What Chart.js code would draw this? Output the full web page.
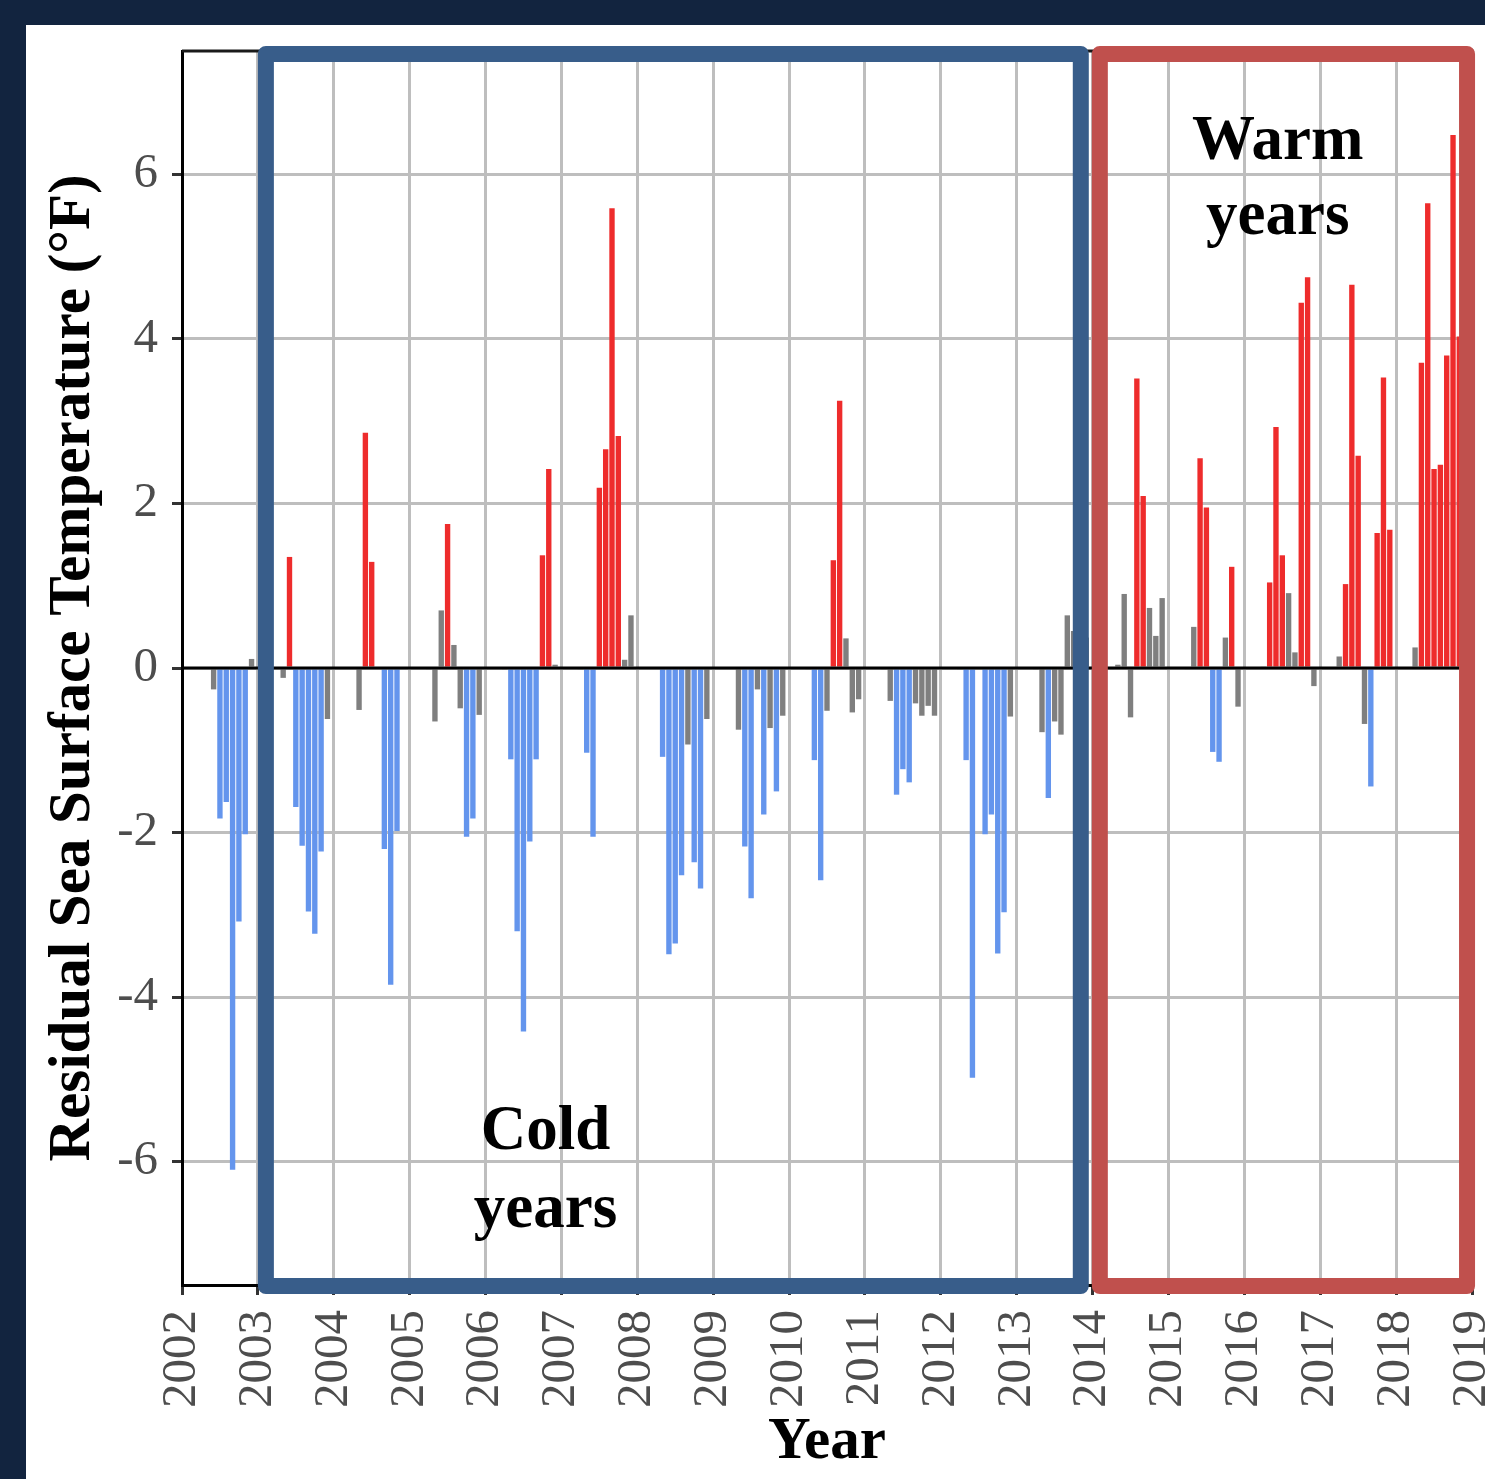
<!DOCTYPE html>
<html>
<head>
<meta charset="utf-8">
<script src="https://cdn.jsdelivr.net/npm/chart.js@4.4.1/dist/chart.umd.min.js"></script>
<style>
  html, body { margin: 0; padding: 0; background: #12243f; }
  #frame { position: absolute; left: 26px; top: 25px; width: 1459px; height: 1454px; background: #ffffff; }
</style>
</head>
<body>
<div id="frame"><canvas id="sstChart"></canvas></div>
<script>
// monthly residual SST (°F), April..December of each year
const years = [2002, 2003, 2004, 2005, 2006, 2007, 2008, 2009, 2010, 2011, 2012, 2013, 2014, 2015, 2016, 2017, 2018];
const months = [4, 5, 6, 7, 8, 9, 10, 11, 12];

const sst2002 = [null, null, -0.26, -1.83, -1.63, -6.10, -3.08, -2.02, 0.11];
const sst2003 = [null, -0.12, 1.35, -1.69, -2.16, -2.96, -3.23, -2.23, -0.62];
const sst2004 = [null, -0.51, 2.86, 1.29, null, -2.20, -3.85, -1.98, null];
const sst2005 = [-0.02, -0.65, 0.70, 1.75, 0.28, -0.49, -2.05, -1.83, -0.57];
const sst2006 = [-0.02, -1.11, -3.20, -4.42, -2.11, -1.11, 1.37, 2.42, 0.04];
const sst2007 = [-0.02, -1.03, -2.05, 2.19, 2.66, 5.59, 2.82, 0.10, 0.64];
const sst2008 = [null, -1.08, -3.48, -3.35, -2.52, -0.93, -2.36, -2.68, -0.62];
const sst2009 = [null, -0.75, -2.17, -2.80, -0.26, -1.78, -0.73, -1.50, -0.58];
const sst2010 = [-0.02, -1.12, -2.58, -0.52, 1.31, 3.25, 0.36, -0.54, -0.38];
const sst2011 = [-0.02, -0.40, -1.54, -1.23, -1.39, -0.43, -0.58, -0.46, -0.58];
const sst2012 = [-0.02, -1.12, -4.98, null, -2.02, -1.78, -3.47, -2.97, -0.59];
const sst2013 = [-0.02, -0.78, -1.58, -0.65, -0.81, 0.64, 0.45, 0.20, 0.37];
const sst2014 = [-0.02, 0.04, 0.90, -0.60, 3.52, 2.09, 0.73, 0.39, 0.85];
const sst2015 = [-0.02, 0.50, 2.55, 1.95, -1.02, -1.14, 0.37, 1.23, -0.47];
const sst2016 = [0.02, 1.04, 2.93, 1.37, 0.91, 0.19, 4.44, 4.75, -0.22];
const sst2017 = [0.14, 1.02, 4.66, 2.58, -0.68, -1.44, 1.64, 3.53, 1.68];
const sst2018 = [0.25, 3.71, 5.65, 2.42, 2.47, 3.80, 6.48, 4.03, 3.00];

const sstByYear = [sst2002, sst2003, sst2004, sst2005, sst2006, sst2007, sst2008, sst2009,
  sst2010, sst2011, sst2012, sst2013, sst2014, sst2015, sst2016, sst2017, sst2018];

const xTickYears = [2002, 2003, 2004, 2005, 2006, 2007, 2008, 2009, 2010, 2011, 2012, 2013, 2014, 2015, 2016, 2017, 2018, 2019];
const yTickValues = [-6, -4, -2, 0, 2, 4, 6];

// highlighted periods and their labels
const periodStart = [2003, 2013.99];
const periodEnd = [2013.95, 2019.04];
const periodColor = ['#385d8a', '#c0504d'];
const periodLine1 = ['Cold', 'Warm'];
const periodLine2 = ['years', 'years'];
const labelX = [2006.79, 2016.44];
const labelY1 = [-5.85, 6.19];
const labelY2 = [-6.79, 5.28];

const points = [];
years.forEach(function (yr, i) {
    months.forEach(function (m, j) {
        const v = sstByYear[i][j];
        if (v !== null) points.push({ x: yr + (m - 1) / 12, y: v });
    });
});

function barColor(v) {
    if (v > 1) return '#ee2c2c';
    if (v < -1) return '#6495ed';
    return '#7f7f7f';
}

const overlay = {
    id: 'overlay',
    afterDatasetsDraw(chart) {
        const { ctx, chartArea: a, scales: { x, y } } = chart;
        ctx.save();
        // zero line
        const y0 = y.getPixelForValue(0);
        ctx.strokeStyle = '#000';
        ctx.lineWidth = 3;
        ctx.beginPath();
        ctx.moveTo(a.left, y0);
        ctx.lineTo(a.right, y0);
        ctx.stroke();
        // rest of the panel border
        ctx.strokeStyle = '#1a1a1a';
        ctx.beginPath();
        ctx.moveTo(a.left, a.top);
        ctx.lineTo(a.right, a.top);
        ctx.lineTo(a.right, a.bottom);
        ctx.stroke();
        // period boxes
        ctx.lineWidth = 16;
        ctx.lineJoin = 'round';
        for (let i = 0; i < periodStart.length; i++) {
            const l = x.getPixelForValue(periodStart[i]);
            const r = x.getPixelForValue(periodEnd[i]);
            const t = a.top - 5;
            const b = a.bottom + 9;
            ctx.strokeStyle = periodColor[i];
            ctx.strokeRect(l + 8, t + 8, r - l - 16, b - t - 16);
        }
        // labels
        ctx.fillStyle = '#000';
        ctx.font = 'bold 63px "Liberation Serif"';
        ctx.textAlign = 'center';
        ctx.textBaseline = 'alphabetic';
        for (let i = 0; i < labelX.length; i++) {
            const px = x.getPixelForValue(labelX[i]);
            ctx.fillText(periodLine1[i], px, y.getPixelForValue(labelY1[i]));
            ctx.fillText(periodLine2[i], px, y.getPixelForValue(labelY2[i]));
        }
        ctx.restore();
    }
};

const tickFont = { family: '"Liberation Serif"', size: 49 };
const titleFont = { family: '"Liberation Serif"', size: 59, weight: 'bold' };

new Chart(document.getElementById('sstChart'), {
    type: 'bar',
    data: {
        datasets: [{
            data: points,
            backgroundColor: function (c) { return c.raw ? barColor(c.raw.y) : '#7f7f7f'; },
            borderWidth: 0,
            barPercentage: 0.85,
            categoryPercentage: 1
        }]
    },
    options: {
        responsive: true,
        maintainAspectRatio: false,
        animation: false,
        layout: { padding: { top: 26, right: 13, left: 0, bottom: 0 } },
        plugins: { legend: { display: false }, tooltip: { enabled: false } },
        scales: {
            x: {
                type: 'linear',
                min: 2002,
                max: 2019,
                offset: false,
                afterBuildTicks: function (s) { s.ticks = xTickYears.map(v => ({ value: v })); },
                afterFit: function (s) { s.height = 194; s.paddingLeft = 0; s.paddingRight = 0; },
                ticks: {
                    autoSkip: false,
                    maxRotation: 90,
                    minRotation: 90,
                    padding: 15,
                    color: '#4d4d4d',
                    font: tickFont,
                    callback: v => String(v)
                },
                grid: { offset: false, color: '#bebebe', lineWidth: 3, tickLength: 10, tickColor: '#333', tickWidth: 3 },
                border: { display: true, color: '#000', width: 3 },
                title: { display: true, text: 'Year', color: '#000', font: titleFont, padding: { top: 0, bottom: 1 } }
            },
            y: {
                min: -7.5,
                max: 7.5,
                afterBuildTicks: function (s) { s.ticks = yTickValues.map(v => ({ value: v })); },
                afterFit: function (s) { s.width = 156; s.paddingTop = 0; s.paddingBottom = 0; },
                ticks: { padding: 14, color: '#4d4d4d', font: tickFont },
                grid: { color: '#bebebe', lineWidth: 3, tickLength: 10, tickColor: '#333', tickWidth: 3 },
                border: { display: true, color: '#000', width: 3 },
                title: { display: true, text: 'Residual Sea Surface Temperature (°F)', color: '#000', font: titleFont, padding: { top: 12, bottom: 0 } }
            }
        }
    },
    plugins: [overlay]
});
</script>
</body>
</html>
